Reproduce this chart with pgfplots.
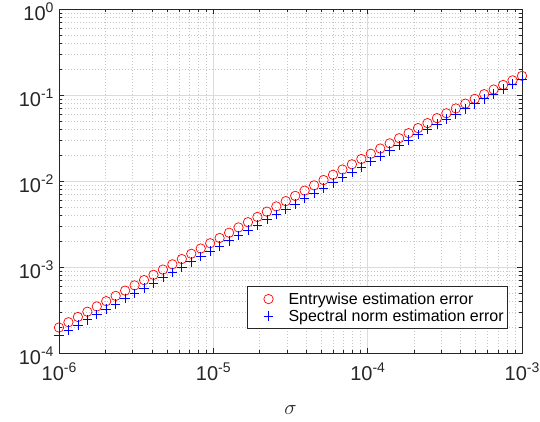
\documentclass[border=0pt]{standalone}
\usepackage{pgfplots}
\usepackage{pgfplotstable}
\pgfplotsset{compat=1.18}
\usepackage{fontspec}
\setmainfont{Liberation Sans}
\newcommand{\tl}[1]{10\raisebox{0.42em}{\fontsize{14}{14}\selectfont #1}}
\pgfplotstableread{
sigma ent spec
1.0000e-6 1.980e-4 1.597e-4
1.1514e-6 2.280e-4 1.839e-4
1.3257e-6 2.625e-4 2.117e-4
1.5264e-6 3.022e-4 2.437e-4
1.7575e-6 3.480e-4 2.806e-4
2.0236e-6 4.007e-4 3.231e-4
2.3300e-6 4.613e-4 3.721e-4
2.6827e-6 5.312e-4 4.284e-4
3.0890e-6 6.116e-4 4.933e-4
3.5566e-6 7.042e-4 5.679e-4
4.0951e-6 8.108e-4 6.539e-4
4.7152e-6 9.336e-4 7.529e-4
5.4287e-6 1.0749e-3 8.669e-4
6.2506e-6 1.2376e-3 9.981e-4
7.1969e-6 1.4250e-3 1.1492e-3
8.2864e-6 1.6407e-3 1.3232e-3
9.5410e-6 1.8891e-3 1.5235e-3
1.0985e-5 2.1750e-3 1.7541e-3
1.2648e-5 2.5043e-3 2.0196e-3
1.4564e-5 2.8837e-3 2.3256e-3
1.6768e-5 3.3201e-3 2.6775e-3
1.9307e-5 3.8228e-3 3.0829e-3
2.2230e-5 4.4015e-3 3.5497e-3
2.5595e-5 5.0678e-3 4.0870e-3
2.9470e-5 5.8351e-3 4.7058e-3
3.3932e-5 6.7185e-3 5.4183e-3
3.9070e-5 7.7359e-3 6.2387e-3
4.4984e-5 8.9068e-3 7.1830e-3
5.1795e-5 1.0255e-2 8.2706e-3
5.9636e-5 1.1808e-2 9.5227e-3
6.8665e-5 1.3596e-2 1.0965e-2
7.9061e-5 1.5654e-2 1.2624e-2
9.1030e-5 1.8024e-2 1.4536e-2
1.0481e-4 2.0751e-2 1.6776e-2
1.2068e-4 2.3868e-2 1.9438e-2
1.3895e-4 2.7417e-2 2.2493e-2
1.5999e-4 3.1454e-2 2.5994e-2
1.8421e-4 3.6038e-2 3.0003e-2
2.1210e-4 4.1239e-2 3.4585e-2
2.4421e-4 4.7130e-2 3.9816e-2
2.8118e-4 5.3794e-2 4.5780e-2
3.2375e-4 6.1321e-2 5.2570e-2
3.7276e-4 6.9813e-2 6.0291e-2
4.2920e-4 7.9379e-2 6.9056e-2
4.9417e-4 9.0140e-2 7.8996e-2
5.6899e-4 1.0223e-1 9.0250e-2
6.5513e-4 1.1579e-1 1.0298e-1
7.5431e-4 1.3099e-1 1.1734e-1
8.6851e-4 1.4799e-1 1.3355e-1
1.0000e-3 1.6699e-1 1.5177e-1
}\datatable
\begin{document}
\begin{tikzpicture}
\useasboundingbox (-59pt,-68pt) rectangle (481pt,353pt);
\begin{axis}[
  at={(0pt,0pt)}, anchor=south west,
  scale only axis, width=463pt, height=344pt,
  xmode=log, ymode=log,
  xmin=1e-6, xmax=1e-3, ymin=1e-4, ymax=1,
  axis line style={draw=black!85, line width=0.7pt},
  tick align=inside,
  major tick length=5pt, minor tick length=3pt,
  every tick/.style={black!85, line width=0.6pt},
  xtick={1e-6,1e-5,1e-4,1e-3},
  xticklabels={\tl{-6},\tl{-5},\tl{-4},\tl{-3}},
  ytick={1e-4,1e-3,1e-2,1e-1,1},
  yticklabels={\tl{-4},\tl{-3},\tl{-2},\tl{-1},\tl{0}},
  minor xtick={2e-6,3e-6,4e-6,5e-6,6e-6,7e-6,8e-6,9e-6,2e-5,3e-5,4e-5,5e-5,6e-5,7e-5,8e-5,9e-5,2e-4,3e-4,4e-4,5e-4,6e-4,7e-4,8e-4,9e-4},
  minor ytick={2e-4,3e-4,4e-4,5e-4,6e-4,7e-4,8e-4,9e-4,2e-3,3e-3,4e-3,5e-3,6e-3,7e-3,8e-3,9e-3,2e-2,3e-2,4e-2,5e-2,6e-2,7e-2,8e-2,9e-2,2e-1,3e-1,4e-1,5e-1,6e-1,7e-1,8e-1,9e-1},
  ticklabel style={font=\fontsize{20}{24}\selectfont, text=black!85},
  xticklabel style={yshift=-6pt},
  yticklabel style={xshift=-2pt, yshift=-2.5pt},
  grid=both,
  major grid style={draw=black!14, line width=0.6pt},
  minor grid style={draw=black!22, dash pattern=on 0.7pt off 2.3pt, line width=0.6pt},
  xlabel={$\sigma$},
  xlabel style={font=\fontsize{20}{24}\selectfont, text=black!85, yshift=-18pt},
  legend style={at={(0.9698,0.0698)}, anchor=south east,
    font=\fontsize{16}{19}\selectfont, draw=black!85, line width=0.6pt,
    cells={anchor=west}, inner xsep=2pt, inner ysep=4pt},
  legend cell align=left,
  legend image code/.code={\path[draw=none,fill=none] (0pt,0pt) (37pt,0pt); \draw[#1] plot coordinates {(19pt,0pt)};},
]
\addplot[only marks, mark=o, color=red, mark size=4.7pt, mark options={line width=0.7pt, draw=red}] table[x=sigma, y=ent] {\datatable};
\addlegendentry{Entrywise estimation error}
\addplot[only marks, mark=+, color=blue, mark size=4.8pt, mark options={line width=0.7pt, draw=blue}] table[x=sigma, y=spec] {\datatable};
\addlegendentry{Spectral norm estimation error}
\end{axis}
\end{tikzpicture}
\end{document}
